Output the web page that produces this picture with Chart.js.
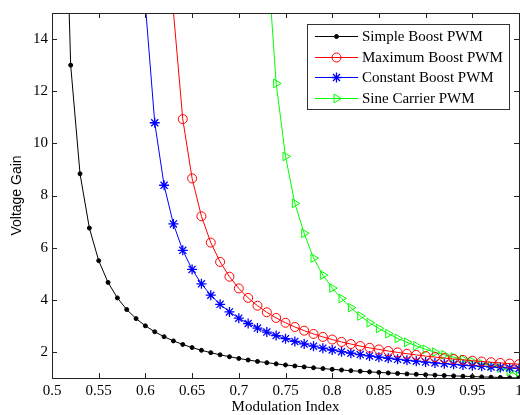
<!DOCTYPE html>
<html>
<head>
<meta charset="utf-8">
<script src="https://cdn.jsdelivr.net/npm/chart.js@4/dist/chart.umd.min.js"></script>
<style>
  html, body { margin: 0; padding: 0; background: #fff; overflow: hidden; }
  #wrap { width: 520px; height: 415px; overflow: hidden; }
</style>
</head>
<body>
<div id="wrap"><canvas id="c" width="530" height="415"></canvas></div>
<script>
// modulation index, one entry per computed point
const modIndex = [0.51,0.52,0.53,0.54,0.55,0.56,0.57,0.58,0.59,0.60,
                  0.61,0.62,0.63,0.64,0.65,0.66,0.67,0.68,0.69,0.70,
                  0.71,0.72,0.73,0.74,0.75,0.76,0.77,0.78,0.79,0.80,
                  0.81,0.82,0.83,0.84,0.85,0.86,0.87,0.88,0.89,0.90,
                  0.91,0.92,0.93,0.94,0.95,0.96,0.97,0.98,0.99,1.00];

const simpleBoost = [25.5,13.0,8.833,6.75,5.5,4.667,4.071,3.625,3.278,3.0,
                     2.773,2.583,2.423,2.286,2.167,2.063,1.971,1.889,1.816,1.75,
                     1.690,1.636,1.587,1.542,1.5,1.462,1.426,1.393,1.362,1.333,
                     1.306,1.281,1.258,1.235,1.214,1.194,1.176,1.158,1.141,1.125,
                     1.110,1.095,1.081,1.068,1.056,1.043,1.032,1.021,1.010,1.0];

const maxBoost = [null,null,null,null,null,null,null,null,null,null,
                  null,24.34,15.05,10.93,8.656,7.203,6.194,5.453,4.885,4.436,
                  4.073,3.772,3.520,3.304,3.119,2.957,2.815,2.689,2.576,2.475,
                  2.384,2.302,2.226,2.157,2.094,2.036,1.982,1.932,1.885,1.842,
                  1.802,1.764,1.728,1.694,1.663,1.633,1.605,1.578,1.553,1.529];

const constBoost = [null,null,null,null,null,null,null,null,null,15.29,
                    10.79,8.393,6.909,5.898,5.166,4.611,4.175,3.825,3.536,3.295,
                    3.090,2.914,2.761,2.627,2.508,2.402,2.308,2.222,2.145,2.074,
                    2.010,1.951,1.897,1.846,1.800,1.757,1.716,1.679,1.644,1.610,
                    1.579,1.550,1.523,1.496,1.472,1.448,1.426,1.405,1.385,1.366];

const sineCarrier = [null,null,null,null,null,null,null,null,null,null,
                     null,null,null,null,null,null,null,null,null,null,
                     null,null,17.5,12.3,9.5,7.7,6.55,5.6,4.95,4.45,
                     4.05,3.7,3.38,3.12,2.9,2.7,2.52,2.37,2.23,2.1,
                     1.99,1.89,1.8,1.71,1.63,1.55,1.47,1.38,1.26,1.07];

const seriesNames = ['Simple Boost PWM', 'Maximum Boost PWM', 'Constant Boost PWM', 'Sine Carrier PWM'];
const xTicks = [0.5,0.55,0.6,0.65,0.7,0.75,0.8,0.85,0.9,0.95,1];
const yTicks = [2,4,6,8,10,12,14];
const yMax = 15;

const serif = "'Liberation Serif', 'Times New Roman', serif";

function pts(ys) {
  return modIndex.map((m, i) => ({x: m, y: ys[i]}));
}

// markers whose centre is above the axes are not drawn (like matlab)
function markerSize(r) {
  return ctx => (ctx.raw && ctx.raw.y > yMax) ? 0 : r;
}

// MATLAB style box with ticks pointing inward
const axesBox = {
  id: 'axesBox',
  afterDatasetsDraw(chart) {
    const {ctx, chartArea: a} = chart;
    const xs = chart.scales.x, ys = chart.scales.y;
    ctx.save();
    ctx.strokeStyle = '#222';
    ctx.lineWidth = 1;
    ctx.beginPath();
    xTicks.forEach(v => {
      const p = Math.round(xs.getPixelForValue(v)) + 0.5;
      ctx.moveTo(p, a.bottom); ctx.lineTo(p, a.bottom - 5);
      ctx.moveTo(p, a.top); ctx.lineTo(p, a.top + 5);
    });
    yTicks.forEach(v => {
      const p = Math.round(ys.getPixelForValue(v)) + 0.5;
      ctx.moveTo(a.left, p); ctx.lineTo(a.left + 5, p);
      ctx.moveTo(a.right, p); ctx.lineTo(a.right - 5, p);
    });
    ctx.stroke();
    ctx.strokeRect(Math.round(a.left) + 0.5, Math.round(a.top) + 0.5,
                   Math.round(a.right - a.left), Math.round(a.bottom - a.top));
    ctx.restore();
  }
};

// legend with line + marker samples
const lineLegend = {
  id: 'lineLegend',
  afterDraw(chart) {
    const {ctx, chartArea: a} = chart;
    const sets = chart.data.datasets;
    ctx.save();
    ctx.font = '15px ' + serif;
    let tw = 0;
    sets.forEach(d => { tw = Math.max(tw, ctx.measureText(d.label).width); });
    const rowH = 20.5;
    const w = 8 + 43 + 4 + tw + 6;
    const h = rowH * sets.length + 3;
    const right = Math.round(a.right) - 10;
    const left = Math.round(right - w);
    const top = Math.round(a.top) + 11;
    ctx.fillStyle = '#fff';
    ctx.fillRect(left, top, w, h);
    ctx.strokeStyle = '#333';
    ctx.lineWidth = 1;
    ctx.strokeRect(left + 0.5, top + 0.5, Math.round(w), Math.round(h));
    sets.forEach((d, i) => {
      const y = Math.round(top + 12 + i * rowH) + 0.5;
      const x0 = left + 8, x1 = left + 51;
      ctx.strokeStyle = d.borderColor;
      ctx.lineWidth = 1;
      ctx.beginPath(); ctx.moveTo(x0, y); ctx.lineTo(x1, y); ctx.stroke();
      ctx.fillStyle = d.pointBackgroundColor;
      ctx.strokeStyle = d.pointBorderColor;
      ctx.lineWidth = d.pointBorderWidth;
      Chart.helpers.drawPoint(ctx, {
        pointStyle: d.pointStyle, radius: d.markerRadius,
        rotation: d.pointRotation || 0, borderWidth: d.pointBorderWidth
      }, (x0 + x1) / 2, y);
      ctx.fillStyle = '#000';
      ctx.textBaseline = 'middle';
      ctx.textAlign = 'left';
      ctx.fillText(d.label, x1 + 4, y + 1);
    });
    ctx.restore();
  }
};

new Chart(document.getElementById('c'), {
  type: 'line',
  data: {
    datasets: [
      { label: seriesNames[0], data: pts(simpleBoost), borderColor: '#000000',
        pointStyle: 'circle', markerRadius: 2, pointBackgroundColor: '#000000',
        pointBorderColor: '#000000', pointBorderWidth: 1 },
      { label: seriesNames[1], data: pts(maxBoost), borderColor: '#ff0000',
        pointStyle: 'circle', markerRadius: 4.5, pointBackgroundColor: 'rgba(0,0,0,0)',
        pointBorderColor: '#ff0000', pointBorderWidth: 1 },
      { label: seriesNames[2], data: pts(constBoost), borderColor: '#0000ff',
        pointStyle: 'star', markerRadius: 5, pointBackgroundColor: '#0000ff',
        pointBorderColor: '#0000ff', pointBorderWidth: 1.3 },
      { label: seriesNames[3], data: pts(sineCarrier), borderColor: '#00ff00',
        pointStyle: 'triangle', pointRotation: 90, markerRadius: 5,
        pointBackgroundColor: 'rgba(0,0,0,0)', pointBorderColor: '#00ff00', pointBorderWidth: 1 }
    ].map(d => Object.assign({ borderWidth: 1, tension: 0, fill: false, spanGaps: false,
                               pointRadius: markerSize(d.markerRadius), pointHoverRadius: 0 }, d))
  },
  options: {
    responsive: false,
    animation: false,
    devicePixelRatio: 1,
    layout: { padding: { top: 12, right: 11, left: 0, bottom: 0 } },
    plugins: { legend: { display: false }, tooltip: { enabled: false } },
    scales: {
      x: {
        type: 'linear', min: 0.5, max: 1,
        grid: { display: false, drawTicks: false },
        border: { display: false },
        afterBuildTicks: s => { s.ticks = xTicks.map(v => ({ value: v })); },
        afterFit: s => { s.height = 37; },
        ticks: { color: '#000', padding: 4, maxRotation: 0, autoSkip: false,
                 font: { family: serif, size: 15 }, callback: v => String(v) },
        title: { display: true, text: 'Modulation Index', color: '#000', padding: 0,
                 font: { family: serif, size: 15, lineHeight: 1 } }
      },
      y: {
        type: 'linear', min: 1, max: yMax,
        grid: { display: false, drawTicks: false },
        border: { display: false },
        afterBuildTicks: s => { s.ticks = yTicks.map(v => ({ value: v })); },
        afterFit: s => { s.width = 52; },
        ticks: { color: '#000', padding: 4, autoSkip: false,
                 font: { family: serif, size: 15 } },
        title: { display: true, text: 'Voltage Gain', color: '#000',
                 padding: { top: 9, bottom: 0 },
                 font: { family: "'Liberation Sans', Arial, sans-serif", size: 14 } }
      }
    }
  },
  plugins: [axesBox, lineLegend]
});
</script>
</body>
</html>
